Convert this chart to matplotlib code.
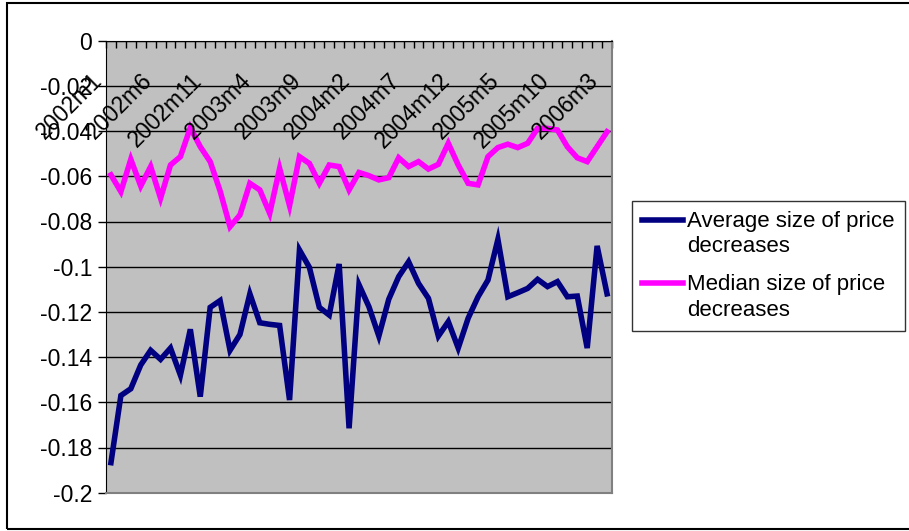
import matplotlib
matplotlib.use("Agg")
import matplotlib.pyplot as plt
from matplotlib.legend_handler import HandlerLine2D
from matplotlib.patches import Rectangle

plt.rcParams["font.family"] = ["Liberation Sans", "DejaVu Sans"]

# monthly series, 2002m1 .. 2006m3
months = [f"{y}m{m}" for y in range(2002, 2007) for m in range(1, 13)][:51]
label_every = 5

avg_decrease = [
    -0.1867, -0.157, -0.154, -0.1435, -0.137, -0.141, -0.136, -0.148, -0.1277, -0.1575,
    -0.118, -0.115, -0.137, -0.130, -0.112, -0.1248, -0.1255, -0.126, -0.159, -0.0926,
    -0.1003, -0.118, -0.1214, -0.0988, -0.1715, -0.108, -0.1177, -0.1307, -0.1144, -0.1044,
    -0.0978, -0.1074, -0.114, -0.1307, -0.1243, -0.136, -0.1228, -0.1133, -0.1059, -0.0879,
    -0.1133, -0.1115, -0.1096, -0.1056, -0.1088, -0.1066, -0.1133, -0.113, -0.136, -0.0908,
    -0.112,
]
median_decrease = [
    -0.0594, -0.0668, -0.0525, -0.0643, -0.0557, -0.0697, -0.055, -0.0513, -0.0385, -0.0469,
    -0.0535, -0.0665, -0.0823, -0.0771, -0.0631, -0.066, -0.0764, -0.0565, -0.073, -0.0513,
    -0.0543, -0.0631, -0.055, -0.0557, -0.066, -0.0583, -0.0597, -0.0616, -0.0606, -0.0518,
    -0.0557, -0.0535, -0.0568, -0.0547, -0.0454, -0.055, -0.0631, -0.0638, -0.0513, -0.0473,
    -0.0458, -0.0473, -0.0454, -0.0388, -0.0388, -0.0395, -0.0469, -0.0518, -0.0535, -0.0469,
    -0.0403,
]

y_ticks = [0, -0.02, -0.04, -0.06, -0.08, -0.1, -0.12, -0.14, -0.16, -0.18, -0.2]
y_tick_labels = ["0", "-0.02", "-0.04", "-0.06", "-0.08", "-0.1", "-0.12", "-0.14",
                 "-0.16", "-0.18", "-0.2"]

FS = 16.5


class FirstLineHandler(HandlerLine2D):
    """Put the legend sample next to the first line of a two-line label."""

    def create_artists(self, legend, orig_handle, xdescent, ydescent,
                       width, height, fontsize, trans):
        artists = super().create_artists(legend, orig_handle, xdescent, ydescent,
                                         width, height, fontsize, trans)
        for a in artists:
            a.set_ydata([y + 0.66 * fontsize for y in a.get_ydata()])
        return artists


fig = plt.figure(figsize=(9.09, 5.31), dpi=100)
ax = fig.add_axes([106 / 909, 1 - 492.7 / 531, 506 / 909, 452 / 531])
ax.set_facecolor("#C0C0C0")

x = list(range(len(months)))
ax.plot(x, avg_decrease, color="#000080", lw=4, solid_joinstyle="miter",
        label="Average size of price\ndecreases")
ax.plot(x, median_decrease, color="#FF00FF", lw=4, solid_joinstyle="miter",
        label="Median size of price\ndecreases")

ax.set_xlim(-0.5, len(months) - 0.5)
ax.set_ylim(-0.2, 0)

# value axis
ax.set_yticks(y_ticks)
ax.set_yticklabels(y_tick_labels, fontsize=FS)
ax.tick_params(axis="y", direction="out", length=6, width=1, pad=4)
ax.grid(axis="y", color="black", lw=1)
ax.set_axisbelow(True)

# category axis sits on y=0 at the top, ticks between categories
ax.xaxis.tick_top()
ax.set_xticks([i - 0.5 for i in range(len(months) + 1)])
ax.set_xticklabels([])
ax.tick_params(axis="x", direction="in", length=5, width=1, top=True, bottom=False)
for i in range(0, len(months), label_every):
    ax.text(i - 0.75, -0.018, months[i], rotation=45, ha="right", va="baseline",
            fontsize=FS, rotation_mode="anchor")

for side in ("right", "bottom"):
    ax.spines[side].set_color("#808080")
    ax.spines[side].set_linewidth(1.5)
ax.spines["left"].set_color("black")
ax.spines["top"].set_color("black")

leg = ax.legend(loc="upper left", bbox_to_anchor=(631.7 / 909, 1 - 200.7 / 531),
                bbox_transform=fig.transFigure, fontsize=16, frameon=True,
                fancybox=False, shadow=False, edgecolor="black", borderaxespad=0,
                borderpad=0.45, handlelength=1.85, handletextpad=0.2, labelspacing=0.75,
                handler_map={plt.Line2D: FirstLineHandler()})
leg.get_frame().set_linewidth(1)
for t in leg.get_texts():
    t.set_linespacing(1.3)

# chart area border
fig.add_artist(Rectangle((7.5 / 909, 2 / 531), 1.0, 1 - 5.3 / 531, transform=fig.transFigure,
                         fill=False, edgecolor="black", lw=1.5, clip_on=False))

fig.savefig("out.png", dpi=100)
